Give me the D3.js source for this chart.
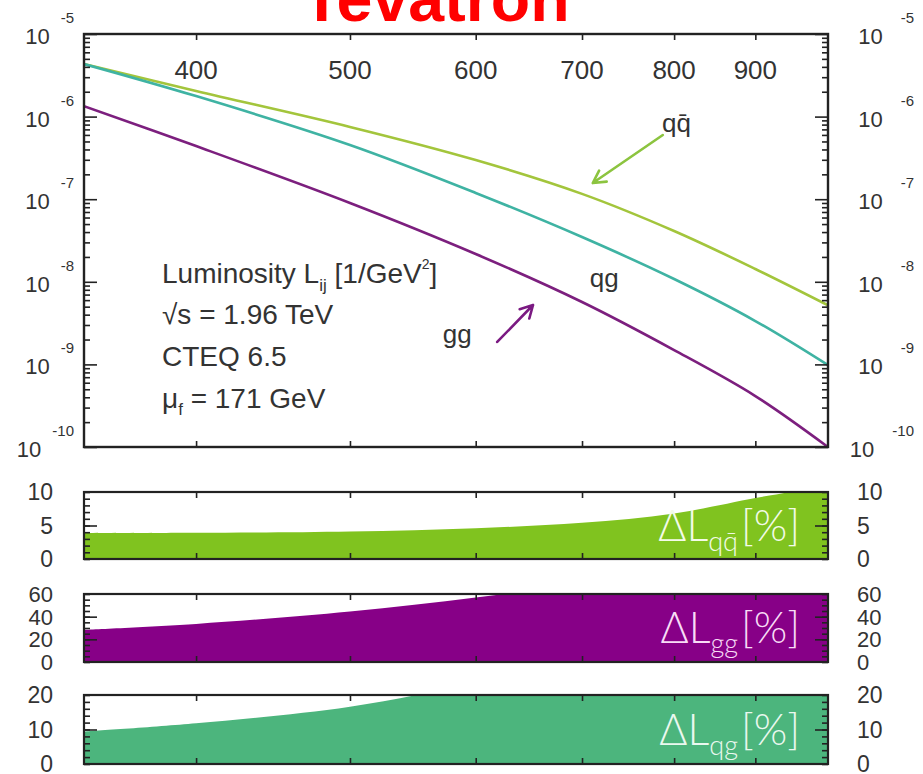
<!DOCTYPE html>
<html>
<head>
<meta charset="utf-8">
<script src="https://cdn.jsdelivr.net/npm/d3@7/dist/d3.min.js"></script>
<style>
  html, body { margin: 0; padding: 0; background: #fff; }
  svg { display: block; }
  text { font-family: "Liberation Sans", Arial, Helvetica, sans-serif; fill: #333; }
</style>
</head>
<body>
<svg id="chart" width="923" height="774"></svg>
<script>
// Parton luminosities L_ij [1/GeV^2] at the Tevatron versus invariant mass [GeV]
const massGeV  = [340, 400, 500, 600, 700, 800, 900, 1000];
const lumQQbar = [4.33e-6, 2.04e-6, 7.5e-7, 2.98e-7, 1.16e-7, 4.12e-8, 1.43e-8, 5.2e-9];
const lumQG    = [4.33e-6, 1.77e-6, 4.53e-7, 1.19e-7, 3.48e-8, 1.08e-8, 3.35e-9, 9.8e-10];
const lumGG    = [1.34e-6, 4.40e-7, 9.0e-8, 2.17e-8, 5.69e-9, 1.49e-9, 4.14e-10, 1.0e-10];

// PDF uncertainty of each luminosity [%]
const errMassGeV = [340, 400, 500, 600, 700, 800, 900, 950, 1000];
const errQQbar   = [3.85, 3.9, 4.1, 4.6, 5.4, 6.8, 9.1, 10.1, 11.5];
const errGG      = [28.4, 33.6, 44.5, 57, 69, 84, 102, 112, 124];
const errQG      = [9.4, 11.8, 16.6, 23.5, 30, 37, 45, 49, 53];

// Tick labels
const massTicks  = [400, 500, 600, 700, 800, 900];
const decadeExps = [-5, -6, -7, -8, -9, -10];
const qqbarTicks = [0, 5, 10];
const ggTicks    = [0, 20, 40, 60];
const qgTicks    = [0, 10, 20];

// Curve labels and arrows, placed in data coordinates [mass, luminosity]
const curveLabels = [
  { text: "qq\u0304", at: [786, 6.52e-7] },
  { text: "qg",       at: [708, 8.65e-9] },
  { text: "gg",       at: [572, 1.82e-9] }
];
const arrows = [
  { from: [787, 5.98e-7], to: [711, 1.57e-7], color: "#8cc43f" },
  { from: [619, 1.87e-9], to: [652, 5.24e-9], color: "#7b1a82" }
];

const svg = d3.select("#chart");
const frameColor = "#222";
const xLeft = 84, xRight = 828;

const x = d3.scaleLog().domain([340, 1000]).range([xLeft, xRight]);
const yLum = d3.scaleLog().domain([1e-10, 1e-5]).range([447, 34]);

const defs = svg.append("defs");

// ---------- title ----------
svg.append("text")
  .attr("x", 302).attr("y", 21)
  .style("font-size", "64.5px").style("font-weight", "bold")
  .style("fill", "#ff0000")
  .text("Tevatron");

// ---------- helpers ----------
function tickGroup(g, axis) {
  g.call(axis);
  g.select(".domain").remove();
  g.selectAll("text").remove();
  g.selectAll("line").attr("stroke", frameColor).attr("stroke-width", 1.6);
}

function frameTicksX(g, yTop, yBottom) {
  tickGroup(g.append("g").attr("transform", `translate(0,${yTop})`),
    d3.axisBottom(x).tickValues(massTicks).tickSize(6));
  tickGroup(g.append("g").attr("transform", `translate(0,${yBottom})`),
    d3.axisTop(x).tickValues(massTicks).tickSize(6));
}

function frameTicksY(g, scale, minor, major) {
  tickGroup(g.append("g").attr("transform", `translate(${xLeft},0)`),
    d3.axisRight(scale).tickValues(minor).tickSize(6));
  tickGroup(g.append("g").attr("transform", `translate(${xLeft},0)`),
    d3.axisRight(scale).tickValues(major).tickSize(13));
  tickGroup(g.append("g").attr("transform", `translate(${xRight},0)`),
    d3.axisLeft(scale).tickValues(minor).tickSize(6));
  tickGroup(g.append("g").attr("transform", `translate(${xRight},0)`),
    d3.axisLeft(scale).tickValues(major).tickSize(13));
}

// ---------- luminosity panel ----------
const topG = svg.append("g");
defs.append("clipPath").attr("id", "clip-lum")
  .append("rect").attr("x", xLeft).attr("y", yLum.range()[1])
  .attr("width", xRight - xLeft).attr("height", yLum.range()[0] - yLum.range()[1]);

const lumLine = d3.line()
  .x((d, i) => x(massGeV[i]))
  .y(d => yLum(d))
  .curve(d3.curveCatmullRom.alpha(0.5));

const series = [
  { values: lumQQbar, color: "#a3c53c" },
  { values: lumQG,    color: "#3fb3a3" },
  { values: lumGG,    color: "#7c1f7e" }
];
topG.append("g").attr("clip-path", "url(#clip-lum)")
  .selectAll("path").data(series).join("path")
  .attr("d", d => lumLine(d.values))
  .attr("fill", "none")
  .attr("stroke", d => d.color)
  .attr("stroke-width", 2.6);

// log ticks
const minorLum = [];
decadeExps.slice(1).forEach(e => {
  for (let m = 2; m <= 9; m++) minorLum.push(m * Math.pow(10, e));
});
frameTicksY(topG, yLum, minorLum, decadeExps.map(e => Math.pow(10, e)));
frameTicksX(topG, yLum.range()[1], yLum.range()[0]);

topG.append("rect")
  .attr("x", xLeft).attr("y", yLum.range()[1])
  .attr("width", xRight - xLeft).attr("height", yLum.range()[0] - yLum.range()[1])
  .attr("fill", "none").attr("stroke", frameColor).attr("stroke-width", 2.4);

// mass tick labels inside the frame
topG.selectAll("text.mass").data(massTicks).join("text")
  .attr("class", "mass")
  .attr("x", d => x(d)).attr("y", yLum.range()[1] + 45)
  .attr("text-anchor", "middle")
  .style("font-size", "26px")
  .text(d => d);

// power-of-ten labels, left and right
function powerLabel(sel, anchorX, gap) {
  sel.each(function (e) {
    const t = d3.select(this)
      .attr("x", anchorX).attr("y", yLum(Math.pow(10, e)) + 10)
      .attr("text-anchor", "end");
    t.append("tspan").style("font-size", "22px").text("10");
    t.append("tspan").attr("dx", gap).attr("dy", -21)
      .style("font-size", "15px").text(String(e));
  });
}
topG.selectAll("text.pl").data(decadeExps).join("text").attr("class", "pl")
  .call(powerLabel, 74, 11);
topG.selectAll("text.pr").data(decadeExps).join("text").attr("class", "pr")
  .call(powerLabel, 914, 18);

// legend text block
const infoSize = "28px";
const info = topG.append("text")
  .attr("x", 162).attr("y", 283)
  .style("font-size", infoSize);
info.append("tspan").text("Luminosity L");
info.append("tspan").attr("dy", 8).style("font-size", "17px").text("ij");
info.append("tspan").attr("dy", -8).text(" [1/GeV");
info.append("tspan").attr("dy", -14).style("font-size", "14px").text("2");
info.append("tspan").attr("dy", 14).text("]");

topG.append("text").attr("x", 162).attr("y", 324).style("font-size", infoSize)
  .text("\u221As = 1.96 TeV");
topG.append("text").attr("x", 162).attr("y", 366).style("font-size", infoSize)
  .text("CTEQ 6.5");
const mu = topG.append("text").attr("x", 162).attr("y", 408).style("font-size", infoSize);
mu.append("tspan").text("\u03BC");
mu.append("tspan").attr("dy", 7).style("font-size", "17px").text("f");
mu.append("tspan").attr("dy", -7).text(" = 171 GeV");

// curve labels
topG.selectAll("text.cl").data(curveLabels).join("text").attr("class", "cl")
  .attr("x", d => x(d.at[0])).attr("y", d => yLum(d.at[1]))
  .style("font-size", "26px")
  .text(d => d.text);

// arrows
arrows.forEach(a => {
  const x0 = x(a.from[0]), y0 = yLum(a.from[1]);
  const x1 = x(a.to[0]),   y1 = yLum(a.to[1]);
  const ang = Math.atan2(y1 - y0, x1 - x0);
  const L = 14, spread = 0.5;
  const head = [ang + Math.PI - spread, ang + Math.PI + spread]
    .map(t => [x1 + L * Math.cos(t), y1 + L * Math.sin(t)]);
  const path = d3.path();
  path.moveTo(x0, y0); path.lineTo(x1, y1);
  path.moveTo(head[0][0], head[0][1]); path.lineTo(x1, y1); path.lineTo(head[1][0], head[1][1]);
  topG.append("path").attr("d", path.toString())
    .attr("fill", "none").attr("stroke", a.color)
    .attr("stroke-width", 2.6).attr("stroke-linecap", "round").attr("stroke-linejoin", "round");
});

// ---------- uncertainty panels ----------
const panels = [
  { id: "qqbar", top: 492, bottom: 559, max: 10, values: errQQbar, fill: "#80c31f",
    ticks: qqbarTicks, minor: d3.range(0, 10.01, 1), major: [5],
    sub: "qq\u0304", textFill: "#f3fbe8", labelSize: 23 },
  { id: "gg", top: 594, bottom: 662, max: 60, values: errGG, fill: "#870087",
    ticks: ggTicks, minor: d3.range(0, 60.01, 5), major: [20, 40],
    sub: "gg", textFill: "#f8dcf6", labelSize: 22 },
  { id: "qg", top: 695, bottom: 764, max: 20, values: errQG, fill: "#4cb57d",
    ticks: qgTicks, minor: d3.range(0, 20.01, 2), major: [10],
    sub: "qg", textFill: "#eaf8ef", labelSize: 23 }
];

panels.forEach(p => {
  const y = d3.scaleLinear().domain([0, p.max]).range([p.bottom, p.top]);
  const g = svg.append("g");
  defs.append("clipPath").attr("id", "clip-" + p.id)
    .append("rect").attr("x", xLeft).attr("y", p.top)
    .attr("width", xRight - xLeft).attr("height", p.bottom - p.top);

  const area = d3.area()
    .x((d, i) => x(errMassGeV[i]))
    .y0(y(0))
    .y1(d => y(d))
    .curve(d3.curveCatmullRom.alpha(0.5));

  g.append("path").attr("clip-path", `url(#clip-${p.id})`)
    .attr("d", area(p.values))
    .attr("fill", p.fill);

  const lbl = g.append("text")
    .attr("x", 800).attr("y", (p.top + p.bottom) / 2 + 15)
    .attr("text-anchor", "end")
    .style("font-family", "Lato, 'Open Sans', sans-serif")
    .style("font-weight", 300)
    .style("font-size", "43px")
    .style("fill", p.textFill);
  lbl.append("tspan").text("\u0394L");
  lbl.append("tspan").attr("dy", 10).style("font-size", "27px").text(p.sub);
  lbl.append("tspan").attr("dy", -10).attr("dx", 3).text("[%]");

  frameTicksY(g, y, p.minor, p.major);
  frameTicksX(g, p.top, p.bottom);

  g.append("rect")
    .attr("x", xLeft).attr("y", p.top)
    .attr("width", xRight - xLeft).attr("height", p.bottom - p.top)
    .attr("fill", "none").attr("stroke", frameColor).attr("stroke-width", 2.2);

  g.selectAll("text.tl").data(p.ticks).join("text").attr("class", "tl")
    .attr("x", 53).attr("y", d => y(d)).attr("dy", "0.36em")
    .attr("text-anchor", "end").style("font-size", p.labelSize + "px")
    .text(d => d);
  g.selectAll("text.tr").data(p.ticks).join("text").attr("class", "tr")
    .attr("x", 857).attr("y", d => y(d)).attr("dy", "0.36em")
    .attr("text-anchor", "start").style("font-size", p.labelSize + "px")
    .text(d => d);
});
</script>
</body>
</html>
